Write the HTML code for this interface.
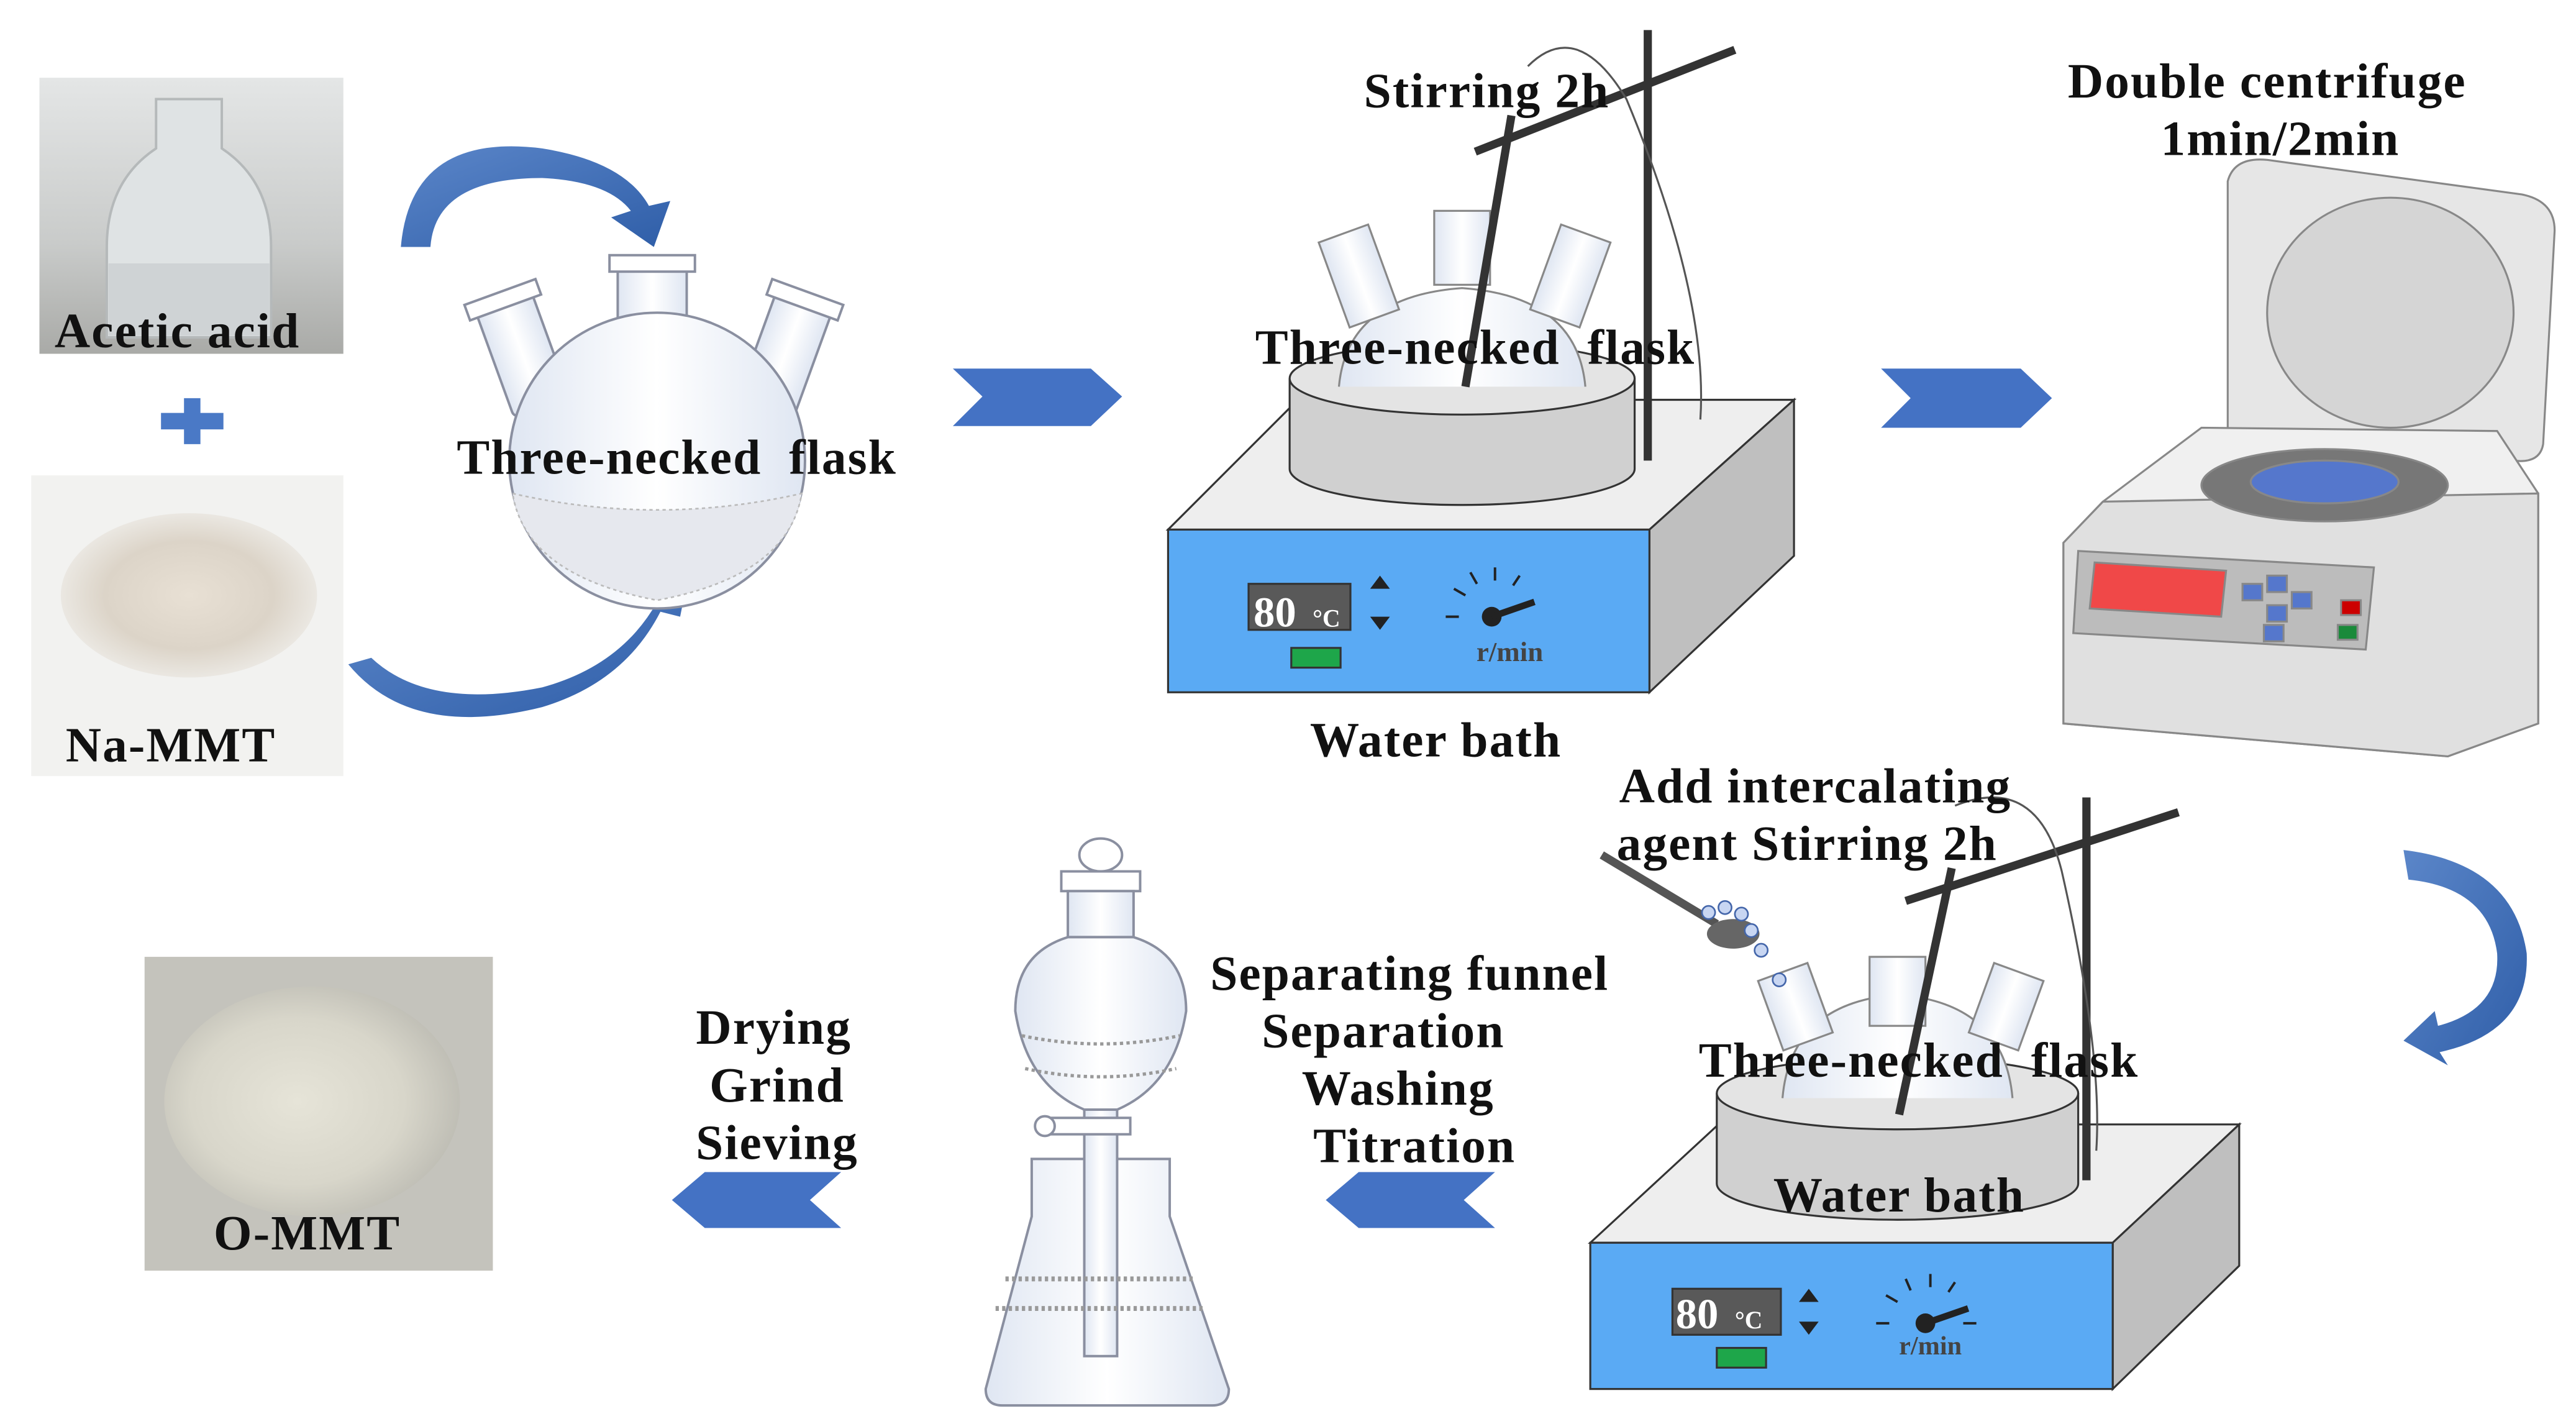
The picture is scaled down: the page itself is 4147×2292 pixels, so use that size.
<!DOCTYPE html>
<html><head><meta charset="utf-8"><style>
html,body{margin:0;padding:0;background:#fff;}
svg{display:block;}
text{font-family:"Liberation Serif",serif;font-weight:bold;fill:#111;}
.L{font-size:30px;letter-spacing:0.8px;}
</style></head><body>
<svg width="4147" height="2292" viewBox="0 0 1568 866" xmlns="http://www.w3.org/2000/svg">
<defs>
<linearGradient id="photo1" x1="0" y1="0" x2="0" y2="1"><stop offset="0" stop-color="#e4e6e6"/><stop offset="0.6" stop-color="#c9cbca"/><stop offset="1" stop-color="#a9aaa7"/></linearGradient>
<radialGradient id="powder" cx="0.5" cy="0.5" r="0.6"><stop offset="0" stop-color="#e8e0d4"/><stop offset="0.55" stop-color="#dcd4c8"/><stop offset="1" stop-color="#f3f3f1"/></radialGradient>
<radialGradient id="powder2" cx="0.45" cy="0.5" r="0.6"><stop offset="0" stop-color="#e6e4d8"/><stop offset="0.6" stop-color="#d8d6ca"/><stop offset="1" stop-color="#b9b8b0"/></radialGradient>
<linearGradient id="glass" x1="0" y1="0" x2="1" y2="0"><stop offset="0" stop-color="#dfe6f2"/><stop offset="0.5" stop-color="#ffffff"/><stop offset="1" stop-color="#dfe6f2"/></linearGradient>
<linearGradient id="blueA" x1="0" y1="0" x2="1" y2="1"><stop offset="0" stop-color="#5b86c9"/><stop offset="1" stop-color="#2f5ea8"/></linearGradient>
</defs>

<rect x="24" y="47" width="185" height="168" fill="url(#photo1)"/>
<path d="M95 60 h40 v30 q30 20 30 60 v55 h-100 v-55 q0 -40 30 -60z" fill="#dfe3e4" stroke="#b5b9ba" stroke-width="1.5"/>
<rect x="66" y="160" width="98" height="44" fill="#c7ccce" opacity="0.7"/>
<text class="L" x="108" y="211" text-anchor="middle">Acetic acid</text>

<path d="M112 242 h10 v9 h14 v10 h-14 v9 h-10 v-9 h-14 v-10 h14z" fill="#4a79c6"/>

<rect x="19" y="289" width="190" height="183" fill="#f2f2f0"/>
<ellipse cx="115" cy="362" rx="78" ry="50" fill="url(#powder)"/>
<text class="L" x="104" y="463" text-anchor="middle">Na-MMT</text>

<rect x="88" y="582" width="212" height="191" fill="#c4c3bc"/>
<ellipse cx="190" cy="670" rx="90" ry="70" fill="url(#powder2)"/>
<text class="L" x="187" y="760" text-anchor="middle">O-MMT</text>

<path d="M244 150 Q250 80 330 90 Q380 98 395 125 L408 122 L398 150 L372 132 L384 128 Q370 110 330 108 Q265 108 262 150z" fill="url(#blueA)"/>
<path d="M212 404 Q250 450 330 430 Q380 415 402 372 L414 375 L418 355 L392 360 L400 366 Q378 405 330 418 Q260 432 226 400z" fill="url(#blueA)"/>
<path d="M1463 517 Q1530 525 1538 580 Q1540 628 1485 640 L1490 648 L1463 633 L1482 615 L1484 624 Q1522 614 1520 580 Q1515 540 1466 535z" fill="url(#blueA)"/>

<g stroke="#8a8fa0" stroke-width="1.5">
<rect x="376" y="160" width="42" height="60" rx="4" fill="url(#glass)"/>
<rect x="371" y="155" width="52" height="10" fill="#fff"/>
<g transform="rotate(-20 318 215)"><rect x="300" y="180" width="36" height="70" rx="4" fill="url(#glass)"/><rect x="295" y="175" width="46" height="10" fill="#fff"/></g>
<g transform="rotate(20 478 215)"><rect x="460" y="180" width="36" height="70" rx="4" fill="url(#glass)"/><rect x="455" y="175" width="46" height="10" fill="#fff"/></g>
<circle cx="400" cy="280" r="90" fill="url(#glass)"/>
</g>
<path d="M312 300 Q400 320 488 300 Q480 350 400 365 Q320 350 312 300z" fill="#e6e8ee" stroke="#bbb" stroke-dasharray="2 2"/>
<text class="L" x="412" y="288" text-anchor="middle">Three-necked &#160;flask</text>

<path d="M580 224 H664 L683 241 L664 259 H580 L598 241z" fill="#4472c4"/>
<path d="M1145 224 H1230 L1249 242 L1230 260 H1145 L1163 242z" fill="#4472c4"/>
<path d="M910 713 H827 L807 730 L827 747 H910 L891 730z" fill="#4472c4"/>
<path d="M512 713 H429 L409 730 L429 747 H512 L493 730z" fill="#4472c4"/>

<g stroke="#333" stroke-width="1.2">
<path d="M711 322 L790 243 L1092 243 L1004 322z" fill="#eeeeee"/>
<path d="M1004 322 L1092 243 L1092 338 L1004 421z" fill="#bfbfbf"/>
<rect x="711" y="322" width="293" height="99" fill="#5aaaf4"/>
<path d="M785 230 V285 A105 22 0 0 0 995 285 V230" fill="#d0d0d0"/>
<ellipse cx="890" cy="230" rx="105" ry="22" fill="#e4e4e4"/>
<path d="M815 235 Q820 180 890 175 Q960 180 965 235" fill="url(#glass)" stroke="#888"/>
<rect x="873" y="128" width="34" height="45" fill="url(#glass)" stroke="#888"/>
<g transform="rotate(-20 828 170)"><rect x="812" y="140" width="32" height="55" fill="url(#glass)" stroke="#888"/></g>
<g transform="rotate(20 955 170)"><rect x="939" y="140" width="32" height="55" fill="url(#glass)" stroke="#888"/></g>
<rect x="760" y="355" width="62" height="28" fill="#595959"/>
<rect x="786" y="394" width="30" height="12" fill="#1ea64a"/>
</g>
<line x1="1003" y1="18" x2="1003" y2="280" stroke="#333" stroke-width="5"/>
<line x1="898" y1="92" x2="1056" y2="30" stroke="#333" stroke-width="5"/>
<line x1="920" y1="70" x2="892" y2="235" stroke="#333" stroke-width="5"/>
<path d="M930 40 Q960 10 990 60 Q1040 180 1035 255" fill="none" stroke="#555" stroke-width="1.2"/>
<text x="763" y="381" font-size="26" style="fill:#fff">80</text><text x="799" y="381" font-size="15" style="fill:#fff">°C</text>
<path d="M834 358 l6 -8 l6 8z M834 375 l6 8 l6 -8z" fill="#222"/>
<circle cx="908" cy="375" r="6" fill="#222"/><line x1="908" y1="375" x2="934" y2="366" stroke="#222" stroke-width="4"/>
<g stroke="#222" stroke-width="1.5"><line x1="880" y1="375" x2="888" y2="375"/><line x1="885" y1="358" x2="892" y2="362"/><line x1="895" y1="348" x2="899" y2="355"/><line x1="910" y1="345" x2="910" y2="353"/><line x1="925" y1="350" x2="921" y2="356"/></g>
<text x="919" y="402" font-size="17" text-anchor="middle" style="fill:#444">r/min</text>
<text class="L" x="905" y="65" text-anchor="middle">Stirring 2h</text>
<text class="L" x="898" y="221" text-anchor="middle">Three-necked &#160;flask</text>
<text class="L" x="874" y="460" text-anchor="middle">Water bath</text>

<g stroke="#888" stroke-width="1.2">
<path d="M1356 110 Q1360 95 1380 97 L1535 118 Q1555 122 1555 140 L1548 270 Q1546 282 1530 280 L1375 275 Q1356 273 1356 260z" fill="#e6e6e6"/>
<ellipse cx="1455" cy="190" rx="75" ry="70" fill="#d5d5d5"/>
<path d="M1280 305 L1340 260 L1520 262 L1545 300 L1545 440 L1490 460 L1256 440 L1256 330z" fill="#f0f0f0"/>
<path d="M1280 305 L1545 300 L1545 440 L1490 460 L1256 440 L1256 330z" fill="#e0e0e0"/>
<ellipse cx="1415" cy="295" rx="75" ry="22" fill="#777"/>
<ellipse cx="1415" cy="293" rx="45" ry="13" fill="#5577cc"/>
<path d="M1265 335 L1445 345 L1440 395 L1262 385z" fill="#bcbcbc"/>
<path d="M1275 342 L1355 347 L1352 375 L1272 370z" fill="#f04848"/>
<rect x="1365" y="355" width="12" height="10" fill="#5577cc"/><rect x="1380" y="350" width="12" height="10" fill="#5577cc"/><rect x="1395" y="360" width="12" height="10" fill="#5577cc"/><rect x="1380" y="368" width="12" height="10" fill="#5577cc"/><rect x="1378" y="380" width="12" height="10" fill="#5577cc"/>
<rect x="1425" y="365" width="12" height="9" fill="#cc0000"/><rect x="1423" y="380" width="12" height="9" fill="#1a8a3a"/>
</g>
<text class="L" x="1380" y="59" text-anchor="middle">Double centrifuge</text>
<text class="L" x="1388" y="94" text-anchor="middle">1min/2min</text>

<g stroke="#333" stroke-width="1.2">
<path d="M968 756 L1046 684 L1363 684 L1286 756z" fill="#eeeeee"/>
<path d="M1286 756 L1363 684 L1363 770 L1286 845z" fill="#bfbfbf"/>
<rect x="968" y="756" width="318" height="89" fill="#5aaaf4"/>
<path d="M1045 665 V720 A110 22 0 0 0 1265 720 V665" fill="#d0d0d0"/>
<ellipse cx="1155" cy="665" rx="110" ry="22" fill="#e4e4e4"/>
<path d="M1085 668 Q1090 610 1155 605 Q1220 610 1225 668" fill="url(#glass)" stroke="#888"/>
<rect x="1138" y="582" width="34" height="42" fill="url(#glass)" stroke="#888"/>
<g transform="rotate(-20 1092 610)"><rect x="1076" y="590" width="32" height="45" fill="url(#glass)" stroke="#888"/></g>
<g transform="rotate(20 1222 610)"><rect x="1206" y="590" width="32" height="45" fill="url(#glass)" stroke="#888"/></g>
<rect x="1018" y="784" width="66" height="28" fill="#595959"/>
<rect x="1045" y="820" width="30" height="12" fill="#1ea64a"/>
</g>
<line x1="1270" y1="485" x2="1270" y2="718" stroke="#333" stroke-width="5"/>
<line x1="1160" y1="548" x2="1326" y2="494" stroke="#333" stroke-width="5"/>
<line x1="1188" y1="528" x2="1156" y2="678" stroke="#333" stroke-width="5"/>
<path d="M1190 490 Q1240 470 1255 530 Q1280 640 1276 700" fill="none" stroke="#555" stroke-width="1.2"/>
<line x1="975" y1="520" x2="1045" y2="562" stroke="#555" stroke-width="5"/>
<ellipse cx="1055" cy="568" rx="16" ry="9" fill="#666"/>
<g fill="#c8d6f2" stroke="#4466aa" stroke-width="1"><circle cx="1040" cy="555" r="4"/><circle cx="1050" cy="552" r="4"/><circle cx="1060" cy="556" r="4"/><circle cx="1066" cy="566" r="4"/><circle cx="1072" cy="578" r="4"/><circle cx="1083" cy="596" r="4"/></g>
<text x="1020" y="808" font-size="26" style="fill:#fff">80</text><text x="1056" y="808" font-size="15" style="fill:#fff">°C</text>
<path d="M1095 792 l6 -8 l6 8z M1095 804 l6 8 l6 -8z" fill="#222"/>
<circle cx="1172" cy="805" r="6" fill="#222"/><line x1="1172" y1="805" x2="1198" y2="796" stroke="#222" stroke-width="4"/>
<g stroke="#222" stroke-width="1.5"><line x1="1142" y1="805" x2="1150" y2="805"/><line x1="1148" y1="788" x2="1155" y2="792"/><line x1="1160" y1="778" x2="1163" y2="785"/><line x1="1175" y1="775" x2="1175" y2="783"/><line x1="1190" y1="780" x2="1186" y2="786"/><line x1="1195" y1="805" x2="1203" y2="805"/></g>
<text x="1175" y="824" font-size="16" text-anchor="middle" style="fill:#444">r/min</text>
<text class="L" x="1105" y="488" text-anchor="middle">Add intercalating</text>
<text class="L" x="1100" y="523" text-anchor="middle">agent Stirring 2h</text>
<text class="L" x="1168" y="655" text-anchor="middle">Three-necked &#160;flask</text>
<text class="L" x="1156" y="737" text-anchor="middle">Water bath</text>

<g stroke="#8a8fa0" stroke-width="1.5" fill="url(#glass)">
<path d="M628 705 H712 V740 L748 845 Q748 855 738 855 H610 Q600 855 600 845 L628 740z"/>
<ellipse cx="670" cy="520" rx="13" ry="10" fill="#fff"/>
<rect x="646" y="530" width="48" height="12" fill="#fff"/>
<rect x="650" y="542" width="40" height="28"/>
<path d="M650 570 Q618 580 618 615 Q625 660 660 675 H680 Q715 660 722 615 Q722 580 690 570z"/>
<rect x="660" y="675" width="20" height="150"/>
<rect x="640" y="680" width="48" height="10" fill="#fff"/>
<circle cx="636" cy="685" r="6" fill="#fff"/>
</g>
<path d="M622 630 Q670 640 718 630" stroke="#999" stroke-dasharray="2 2" fill="none" stroke-width="2"/>
<path d="M624 650 Q670 660 716 650" stroke="#999" stroke-dasharray="2 2" fill="none" stroke-width="2"/>
<path d="M612 778 H728 M606 796 H734" stroke="#999" stroke-dasharray="2 2" stroke-width="3"/>
<text class="L" x="858" y="602" text-anchor="middle">Separating funnel</text>
<text class="L" x="842" y="637" text-anchor="middle">Separation</text>
<text class="L" x="851" y="672" text-anchor="middle">Washing</text>
<text class="L" x="861" y="707" text-anchor="middle">Titration</text>
<text class="L" x="471" y="635" text-anchor="middle">Drying</text>
<text class="L" x="473" y="670" text-anchor="middle">Grind</text>
<text class="L" x="473" y="705" text-anchor="middle">Sieving</text>
</svg>
</body></html>
